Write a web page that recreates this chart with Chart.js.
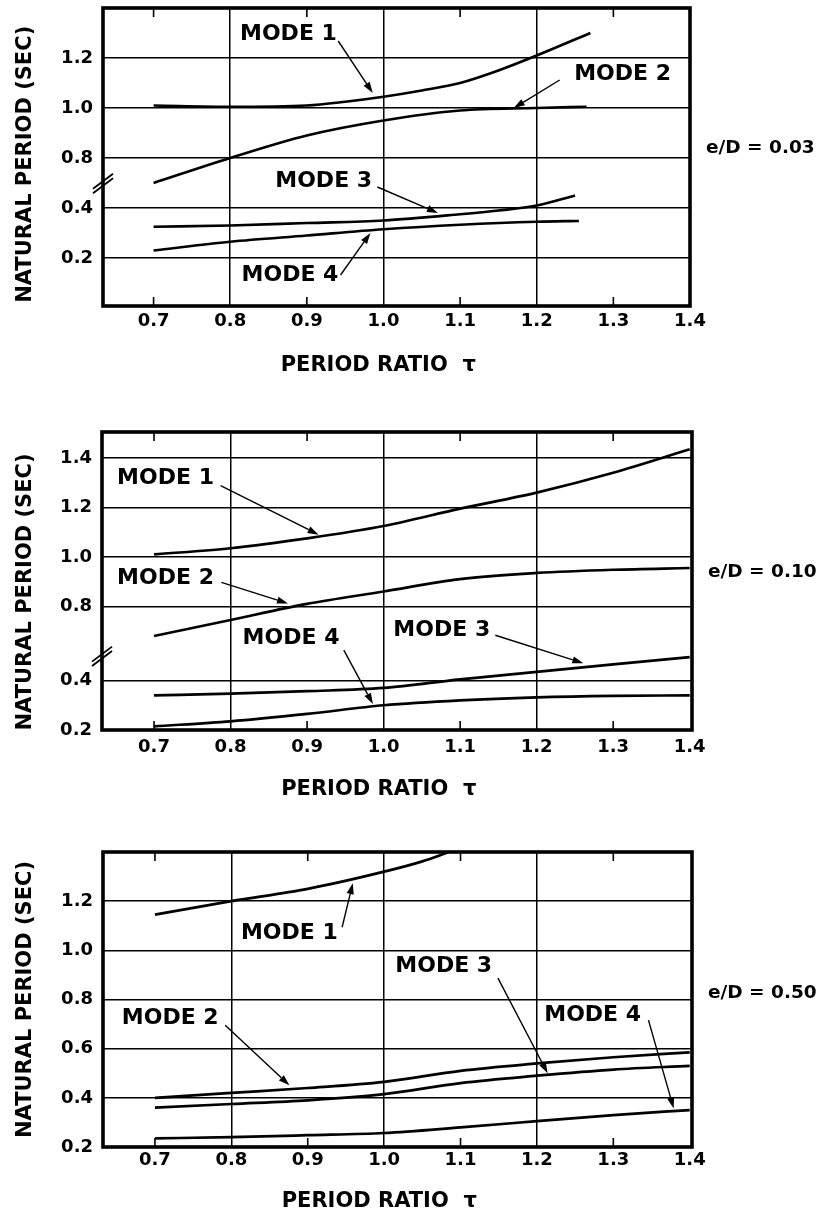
<!DOCTYPE html>
<html>
<head>
<meta charset="utf-8">
<script src="https://cdn.jsdelivr.net/npm/chart.js@4.4.1/dist/chart.umd.min.js"></script>
<style>
html,body{margin:0;padding:0;background:#fff;}
#wrap{position:relative;width:822px;height:1220px;background:#fff;}
canvas{position:absolute;left:0;}
</style>
</head>
<body>
<div id="wrap">
<canvas id="c1" width="822" height="380" style="top:0px"></canvas>
<canvas id="c2" width="822" height="430" style="top:380px"></canvas>
<canvas id="c3" width="822" height="410" style="top:810px"></canvas>
</div>
<script>
// ---------- DATA ----------
const xTickValues = [0.7, 0.8, 0.9, 1.0, 1.1, 1.2, 1.3, 1.4];
const xTickLabels = ['0.7', '0.8', '0.9', '1.0', '1.1', '1.2', '1.3', '1.4'];
const xGridValues = [0.8, 1.0, 1.2];
const xMinorValues = [0.7, 0.9, 1.1, 1.3];

const yTicksA = [0.2, 0.4, 0.8, 1.0, 1.2];
const yLabelsA = ['0.2', '0.4', '0.8', '1.0', '1.2'];
const yTicksB = [0.2, 0.4, 0.8, 1.0, 1.2, 1.4];
const yLabelsB = ['0.2', '0.4', '0.8', '1.0', '1.2', '1.4'];
const yTicksC = [0.2, 0.4, 0.6, 0.8, 1.0, 1.2];
const yLabelsC = ['0.2', '0.4', '0.6', '0.8', '1.0', '1.2'];

const modeNames = ['MODE 1', 'MODE 2', 'MODE 3', 'MODE 4'];
const ratioLabels = ['e/D = 0.03', 'e/D = 0.10', 'e/D = 0.50'];
const xTitle = 'PERIOD RATIO  \u03C4';
const yTitle = 'NATURAL PERIOD (SEC)';

// e/D = 0.03
const tauA1 = [0.7, 0.8, 0.9, 0.95, 1.0, 1.05, 1.1, 1.15, 1.2, 1.27];
const perA1 = [1.01, 1.005, 1.01, 1.025, 1.045, 1.07, 1.10, 1.15, 1.21, 1.30];
const tauA2 = [0.7, 0.8, 0.9, 1.0, 1.1, 1.2, 1.265];
const perA2 = [0.70, 0.80, 0.89, 0.95, 0.99, 1.0, 1.005];
const tauA3 = [0.7, 0.8, 0.9, 1.0, 1.1, 1.15, 1.2, 1.25];
const perA3 = [0.325, 0.33, 0.34, 0.35, 0.375, 0.39, 0.41, 0.45];
const tauA4 = [0.7, 0.8, 0.9, 1.0, 1.1, 1.2, 1.255];
const perA4 = [0.23, 0.265, 0.29, 0.315, 0.333, 0.345, 0.348];

// e/D = 0.10
const tauB = [0.7, 0.8, 0.9, 1.0, 1.1, 1.2, 1.3, 1.4];
const perB1 = [1.01, 1.035, 1.075, 1.125, 1.195, 1.26, 1.34, 1.435];
const perB2 = [0.68, 0.745, 0.81, 0.86, 0.91, 0.935, 0.948, 0.955];
const perB3 = [0.34, 0.347, 0.357, 0.37, 0.405, 0.435, 0.465, 0.495];
const perB4 = [0.215, 0.235, 0.265, 0.30, 0.32, 0.332, 0.338, 0.34];

// e/D = 0.50
const tauC1 = [0.7, 0.8, 0.9, 1.0, 1.05, 1.085];
const perC1 = [1.145, 1.20, 1.25, 1.32, 1.362, 1.40];
const tauC = [0.7, 0.8, 0.9, 1.0, 1.1, 1.2, 1.3, 1.4];
const perC2 = [0.40, 0.42, 0.44, 0.465, 0.51, 0.54, 0.565, 0.585];
const perC3 = [0.36, 0.375, 0.39, 0.415, 0.46, 0.49, 0.515, 0.53];
const perC4 = [0.235, 0.24, 0.248, 0.257, 0.28, 0.305, 0.33, 0.35];

// ---------- AXIS BREAK ----------
// values below BREAK_LIMIT sit on the lower (shifted) part of the broken axis
const BREAK_LIMIT = 0.6;
function toAxis(v, shift) { return v < BREAK_LIMIT ? v + shift : v; }

// ---------- LAYOUT / STYLE ----------
const panels = [
  { canvas: 'c1', label: ratioLabels[0], shift: 0.2, xMin: 0.634, xMax: 1.4, yMin: 0.208, yMax: 1.4,
    yTicks: yTicksA, yLabels: yLabelsA, breakAt: 0.7, padTop: 8, padRight: 132, yWidth: 103,
    xHeight: 74, tickPad: 5, xTitlePad: 2, yTitlePad: 13, yTitleTrail: '  ', labelY: 0.84,
    series: [[tauA1, perA1], [tauA2, perA2], [tauA3, perA3], [tauA4, perA4]],
    notes: [
      { x: 0.876, y: 1.296, from: [0.941, 1.268], to: [0.986, 1.06] },
      { x: 1.312, y: 1.136, from: [1.23, 1.112], to: [1.17, 1.0] },
      { x: 0.922, y: 0.708, from: [0.992, 0.684], to: [1.071, 0.58] },
      { x: 0.878, y: 0.332, from: [0.944, 0.332], to: [0.983, 0.50] }
    ] },
  { canvas: 'c2', label: ratioLabels[1], shift: 0.1, xMin: 0.632, xMax: 1.403, yMin: 0.3, yMax: 1.505,
    yTicks: yTicksB, yLabels: yLabelsB, breakAt: 0.6, padTop: 52, padRight: 130, yWidth: 102,
    xHeight: 80, tickPad: 7, xTitlePad: 8, yTitlePad: 13, yTitleTrail: '   ', labelY: 0.937,
    series: [[tauB, perB1], [tauB, perB2], [tauB, perB3], [tauB, perB4]],
    notes: [
      { x: 0.715, y: 1.316, from: [0.787, 1.288], to: [0.915, 1.09] },
      { x: 0.715, y: 0.913, from: [0.788, 0.897], to: [0.875, 0.812] },
      { x: 1.076, y: 0.703, from: [1.146, 0.683], to: [1.261, 0.57] },
      { x: 0.879, y: 0.671, from: [0.948, 0.623], to: [0.986, 0.405] }
    ] },
  { canvas: 'c3', label: ratioLabels[2], shift: 0, xMin: 0.632, xMax: 1.403, yMin: 0.2, yMax: 1.4,
    yTicks: yTicksC, yLabels: yLabelsC, breakAt: null, padTop: 42, padRight: 130, yWidth: 103,
    xHeight: 73, tickPad: 3, xTitlePad: 6, yTitlePad: 13, yTitleTrail: '', labelY: 0.826,
    series: [[tauC1, perC1], [tauC, perC2], [tauC, perC3], [tauC, perC4]],
    notes: [
      { x: 0.876, y: 1.07, from: [0.945, 1.094], to: [0.959, 1.273] },
      { x: 0.720, y: 0.724, from: [0.792, 0.695], to: [0.876, 0.451] },
      { x: 1.078, y: 0.936, from: [1.149, 0.887], to: [1.214, 0.50] },
      { x: 1.273, y: 0.736, from: [1.346, 0.716], to: [1.379, 0.357] }
    ] }
];

const FONT = '"DejaVu Sans", "Liberation Sans", Arial, sans-serif';
const near = (a, b) => Math.abs(a - b) < 1e-6;

function drawArrow(ctx, x1, y1, x2, y2) {
  const ang = Math.atan2(y2 - y1, x2 - x1);
  const L = 11, W = 3.6;
  const bx = x2 - L * Math.cos(ang), by = y2 - L * Math.sin(ang);
  ctx.beginPath();
  ctx.moveTo(x1, y1);
  ctx.lineTo(bx, by);
  ctx.lineWidth = 1.4;
  ctx.stroke();
  ctx.beginPath();
  ctx.moveTo(x2, y2);
  ctx.lineTo(bx + W * Math.sin(ang), by - W * Math.cos(ang));
  ctx.lineTo(bx - W * Math.sin(ang), by + W * Math.cos(ang));
  ctx.closePath();
  ctx.fill();
}

function decorPlugin(p) {
  return {
    id: 'decor_' + p.canvas,
    afterDraw(chart) {
      const { ctx, chartArea: a, scales: { x, y } } = chart;
      ctx.save();
      ctx.strokeStyle = '#000';
      ctx.fillStyle = '#000';
      // minor inner ticks
      ctx.lineWidth = 1.6;
      xMinorValues.forEach(t => {
        const px = x.getPixelForValue(t);
        ctx.beginPath();
        ctx.moveTo(px, a.top); ctx.lineTo(px, a.top + 9);
        ctx.moveTo(px, a.bottom); ctx.lineTo(px, a.bottom - 9);
        ctx.stroke();
      });
      // frame
      ctx.lineWidth = 3.6;
      ctx.strokeRect(a.left, a.top, a.right - a.left, a.bottom - a.top);
      // axis break
      if (p.breakAt !== null) {
        const by = y.getPixelForValue(p.breakAt);
        ctx.lineWidth = 1.8;
        [-2.2, 2.2].forEach(d => {
          ctx.beginPath();
          ctx.moveTo(a.left - 10, by + 8 + d);
          ctx.lineTo(a.left + 10, by - 7 + d);
          ctx.stroke();
        });
      }
      // mode annotations
      ctx.font = 'bold 22px ' + FONT;
      ctx.textAlign = 'center';
      ctx.textBaseline = 'middle';
      p.notes.forEach((n, i) => {
        ctx.fillText(modeNames[i], x.getPixelForValue(n.x), y.getPixelForValue(n.y));
        drawArrow(ctx,
          x.getPixelForValue(n.from[0]), y.getPixelForValue(n.from[1]),
          x.getPixelForValue(n.to[0]), y.getPixelForValue(n.to[1]));
      });
      // e/D label
      ctx.font = 'bold 18.5px ' + FONT;
      ctx.textAlign = 'left';
      ctx.fillText(p.label, a.right + 16, y.getPixelForValue(p.labelY));
      ctx.restore();
    }
  };
}

function makeChart(p) {
  const datasets = p.series.map(([tau, per]) => ({
    data: tau.map((t, i) => ({ x: t, y: toAxis(per[i], p.shift) })),
    borderColor: '#000',
    borderWidth: 2.7,
    pointRadius: 0,
    fill: false,
    cubicInterpolationMode: 'monotone'
  }));
  new Chart(document.getElementById(p.canvas), {
    type: 'line',
    data: { datasets },
    options: {
      responsive: false,
      animation: false,
      events: [],
      layout: { padding: { top: p.padTop, right: p.padRight, bottom: 0, left: 0 } },
      plugins: { legend: { display: false }, tooltip: { enabled: false } },
      scales: {
        x: {
          type: 'linear', min: p.xMin, max: p.xMax,
          afterBuildTicks: s => { s.ticks = xTickValues.map(v => ({ value: v })); },
          afterFit: s => { s.height = p.xHeight; s.paddingLeft = 0; s.paddingRight = 0; },
          ticks: {
            autoSkip: false, maxRotation: 0, color: '#000', padding: p.tickPad,
            font: { family: FONT, size: 18, weight: 'bold' },
            callback: (v, i) => xTickLabels[i]
          },
          grid: {
            drawTicks: false, lineWidth: 1.5,
            color: c => (c.tick && xGridValues.some(m => near(m, c.tick.value))) ? '#000' : 'rgba(0,0,0,0)'
          },
          border: { display: false },
          title: {
            display: true, text: xTitle + '     ', color: '#000',
            font: { family: FONT, size: 21, weight: 'bold' },
            padding: { top: 0, bottom: p.xTitlePad }
          }
        },
        y: {
          type: 'linear', min: p.yMin, max: p.yMax,
          afterBuildTicks: s => { s.ticks = p.yTicks.map(v => ({ value: toAxis(v, p.shift) })); },
          afterFit: s => { s.width = p.yWidth; s.paddingTop = 0; s.paddingBottom = 0; },
          ticks: {
            autoSkip: false, color: '#000', padding: 10,
            font: { family: FONT, size: 18, weight: 'bold' },
            callback: (v, i) => p.yLabels[i]
          },
          grid: { drawTicks: false, lineWidth: 1.5, color: '#000' },
          border: { display: false },
          title: {
            display: true, text: yTitle + p.yTitleTrail, color: '#000',
            font: { family: FONT, size: 21, weight: 'bold' },
            padding: { top: p.yTitlePad, bottom: 0 }
          }
        }
      }
    },
    plugins: [decorPlugin(p)]
  });
}

panels.forEach(makeChart);
</script>
</body>
</html>
